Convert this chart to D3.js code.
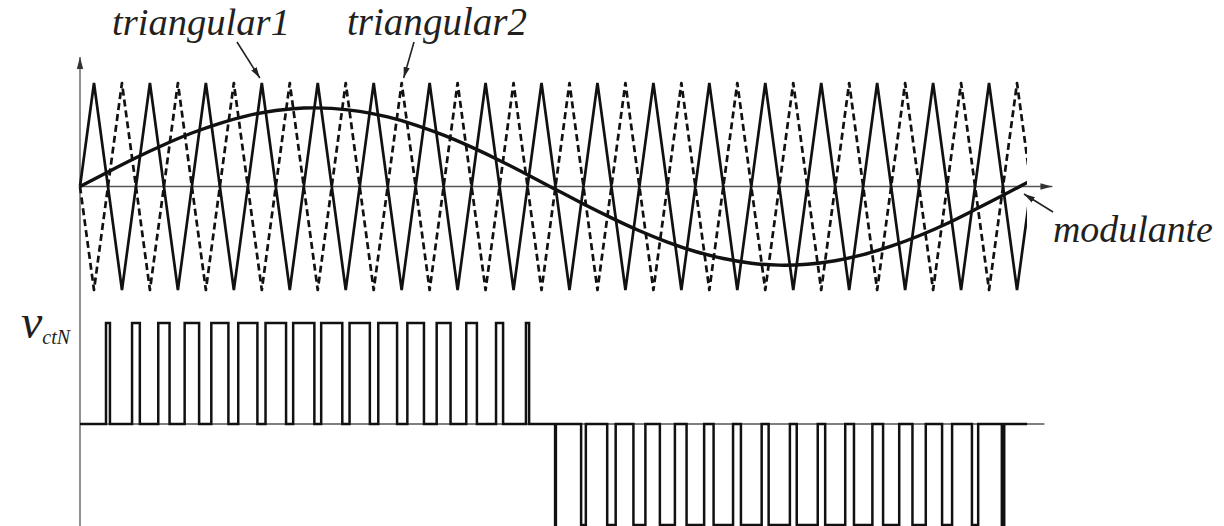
<!DOCTYPE html>
<html>
<head>
<meta charset="utf-8">
<script src="https://cdn.jsdelivr.net/npm/d3@7"></script>
<style>
  html, body { margin: 0; padding: 0; background: #fff; }
  svg { display: block; }
  text { font-family: "Liberation Serif", "Times New Roman", serif; font-style: italic; fill: #231f20; }
</style>
</head>
<body>
<svg id="chart" width="1224" height="526"></svg>
<script>
// Time is measured in half periods of the carrier (17 carrier periods shown).
const carrierTimes = [0, 0.5, 1.5, 2.5, 3.5, 4.5, 5.5, 6.5, 7.5, 8.5, 9.5, 10.5, 11.5, 12.5, 13.5, 14.5, 15.5,
  16.5, 17.5, 18.5, 19.5, 20.5, 21.5, 22.5, 23.5, 24.5, 25.5, 26.5, 27.5, 28.5, 29.5, 30.5, 31.5, 32.5, 33.5, 34];
const triangular1 = [0, 1, -1, 1, -1, 1, -1, 1, -1, 1, -1, 1, -1, 1, -1, 1, -1,
  1, -1, 1, -1, 1, -1, 1, -1, 1, -1, 1, -1, 1, -1, 1, -1, 1, -1, 0];
const triangular2 = [0, -1, 1, -1, 1, -1, 1, -1, 1, -1, 1, -1, 1, -1, 1, -1, 1,
  -1, 1, -1, 1, -1, 1, -1, 1, -1, 1, -1, 1, -1, 1, -1, 1, -1, 1, 0];

// Modulating wave, sampled at every zero crossing of the carriers.
const sampleTimes = [0, 1, 2, 3, 4, 5, 6, 7, 8, 9, 10, 11, 12, 13, 14, 15, 16, 17,
  18, 19, 20, 21, 22, 23, 24, 25, 26, 27, 28, 29, 30, 31, 32, 33, 34];
const modulante = [0, 0.141, 0.278, 0.404, 0.517, 0.611, 0.685, 0.734, 0.758, 0.755, 0.726, 0.672,
  0.594, 0.496, 0.380, 0.252, 0.113, -0.028, -0.169, -0.303, -0.428, -0.537, -0.628, -0.696,
  -0.741, -0.760, -0.751, -0.717, -0.658, -0.577, -0.476, -0.358, -0.223, -0.085, 0.057];

const timeEnd = 33.86;       // waveforms stop here
const axisEnd = 34.48;       // end of the time axes

const labels = { tri1: "triangular1", tri2: "triangular2", mod: "modulante", out: "v", outSub: "ctN" };

const svg = d3.select("#chart");
const ink = "#111";
const axisInk = "#555";

const x = d3.scaleLinear().domain([0, 34]).range([80, 1031]);
const yTop = d3.scaleLinear().domain([-1, 1]).range([290, 83]);
const yBot = d3.scaleLinear().domain([-1, 1]).range([525, 323]);

// markers
const defs = svg.append("defs");
defs.append("marker").attr("id", "axisHead")
  .attr("viewBox", "0 0 12 8").attr("refX", 12).attr("refY", 4)
  .attr("markerWidth", 12).attr("markerHeight", 8).attr("markerUnits", "userSpaceOnUse")
  .attr("orient", "auto")
  .append("path").attr("d", "M0,0.8 L12,4 L0,7.2 Z").attr("fill", "#333");
defs.append("marker").attr("id", "noteHead")
  .attr("viewBox", "0 0 12 8").attr("refX", 12).attr("refY", 4)
  .attr("markerWidth", 11).attr("markerHeight", 8).attr("markerUnits", "userSpaceOnUse")
  .attr("orient", "auto")
  .append("path").attr("d", "M0,0.6 L12,4 L0,7.4 Z").attr("fill", "#222");
defs.append("clipPath").attr("id", "waveClip")
  .append("rect").attr("x", 0).attr("y", 0).attr("width", x(timeEnd)).attr("height", 526);

// axes
svg.append("line").attr("x1", x(0)).attr("x2", x(0)).attr("y1", 526).attr("y2", 57)
  .attr("stroke", axisInk).attr("stroke-width", 1.3).attr("marker-end", "url(#axisHead)");
svg.append("line").attr("x1", x(0)).attr("x2", x(axisEnd) + 8).attr("y1", yTop(0)).attr("y2", yTop(0))
  .attr("stroke", axisInk).attr("stroke-width", 1.3).attr("marker-end", "url(#axisHead)");
svg.append("line").attr("x1", x(0)).attr("x2", x(axisEnd)).attr("y1", yBot(0)).attr("y2", yBot(0))
  .attr("stroke", axisInk).attr("stroke-width", 1.3);

const waves = svg.append("g").attr("clip-path", "url(#waveClip)");

const carrierLine = levels => d3.line()
  .x((d, i) => x(carrierTimes[i]))
  .y((d, i) => yTop(levels[i]))(levels);

waves.append("path").attr("d", carrierLine(triangular2))
  .attr("fill", "none").attr("stroke", ink).attr("stroke-width", 2.7)
  .attr("stroke-dasharray", "7,4").attr("stroke-linejoin", "round");
waves.append("path").attr("d", carrierLine(triangular1))
  .attr("fill", "none").attr("stroke", ink).attr("stroke-width", 2.7)
  .attr("stroke-linejoin", "miter");

const sineLine = d3.line()
  .x((d, i) => x(sampleTimes[i]))
  .y(d => yTop(d))
  .curve(d3.curveNatural);
waves.append("path").attr("d", sineLine(modulante))
  .attr("fill", "none").attr("stroke", ink).attr("stroke-width", 3.4);

// output voltage: one pulse centred on each carrier crossing, width set by the modulating sample
const outPts = [[0, 0]];
modulante.forEach((m, i) => {
  const t = sampleTimes[i];
  if (m === 0 || t + Math.abs(m) / 2 > timeEnd) return;
  const s = Math.sign(m), w = Math.abs(m) / 2;
  outPts.push([t - w, 0], [t - w, s], [t + w, s], [t + w, 0]);
});
outPts.push([timeEnd, 0]);
svg.append("path")
  .attr("d", d3.line().x(d => x(d[0])).y(d => yBot(d[1]))(outPts))
  .attr("fill", "none").attr("stroke", ink).attr("stroke-width", 2.5)
  .attr("stroke-linejoin", "miter");

// annotations: each label is sized so that it spans the given width
const note = (txt, tx, ty, width, ax1, ay1, ax2, ay2) => {
  const t = svg.append("text").attr("x", tx).attr("y", ty).attr("font-size", 40).text(txt);
  const len = t.node().getComputedTextLength();
  const size = Math.min(44, 40 * width / len);
  t.attr("font-size", size);
  svg.append("line").attr("x1", ax1).attr("y1", ay1).attr("x2", ax2).attr("y2", ay2)
    .attr("stroke", "#222").attr("stroke-width", 1.6).attr("marker-end", "url(#noteHead)");
};
note(labels.tri1, 112, 35, 178, 237, 42, x(6.5) - 2, yTop(1) - 5);
note(labels.tri2, 347, 35, 180, 414, 42, x(11.5) + 2, yTop(1) - 5);
note(labels.mod, 1053, 242, 160, 1053, 212, 1024, 194);

const vl = svg.append("text").attr("x", 21).attr("y", 338).attr("font-size", 48);
vl.append("tspan").text(labels.out);
vl.append("tspan").attr("font-size", 20).attr("dy", 6).text(labels.outSub);
</script>
</body>
</html>
